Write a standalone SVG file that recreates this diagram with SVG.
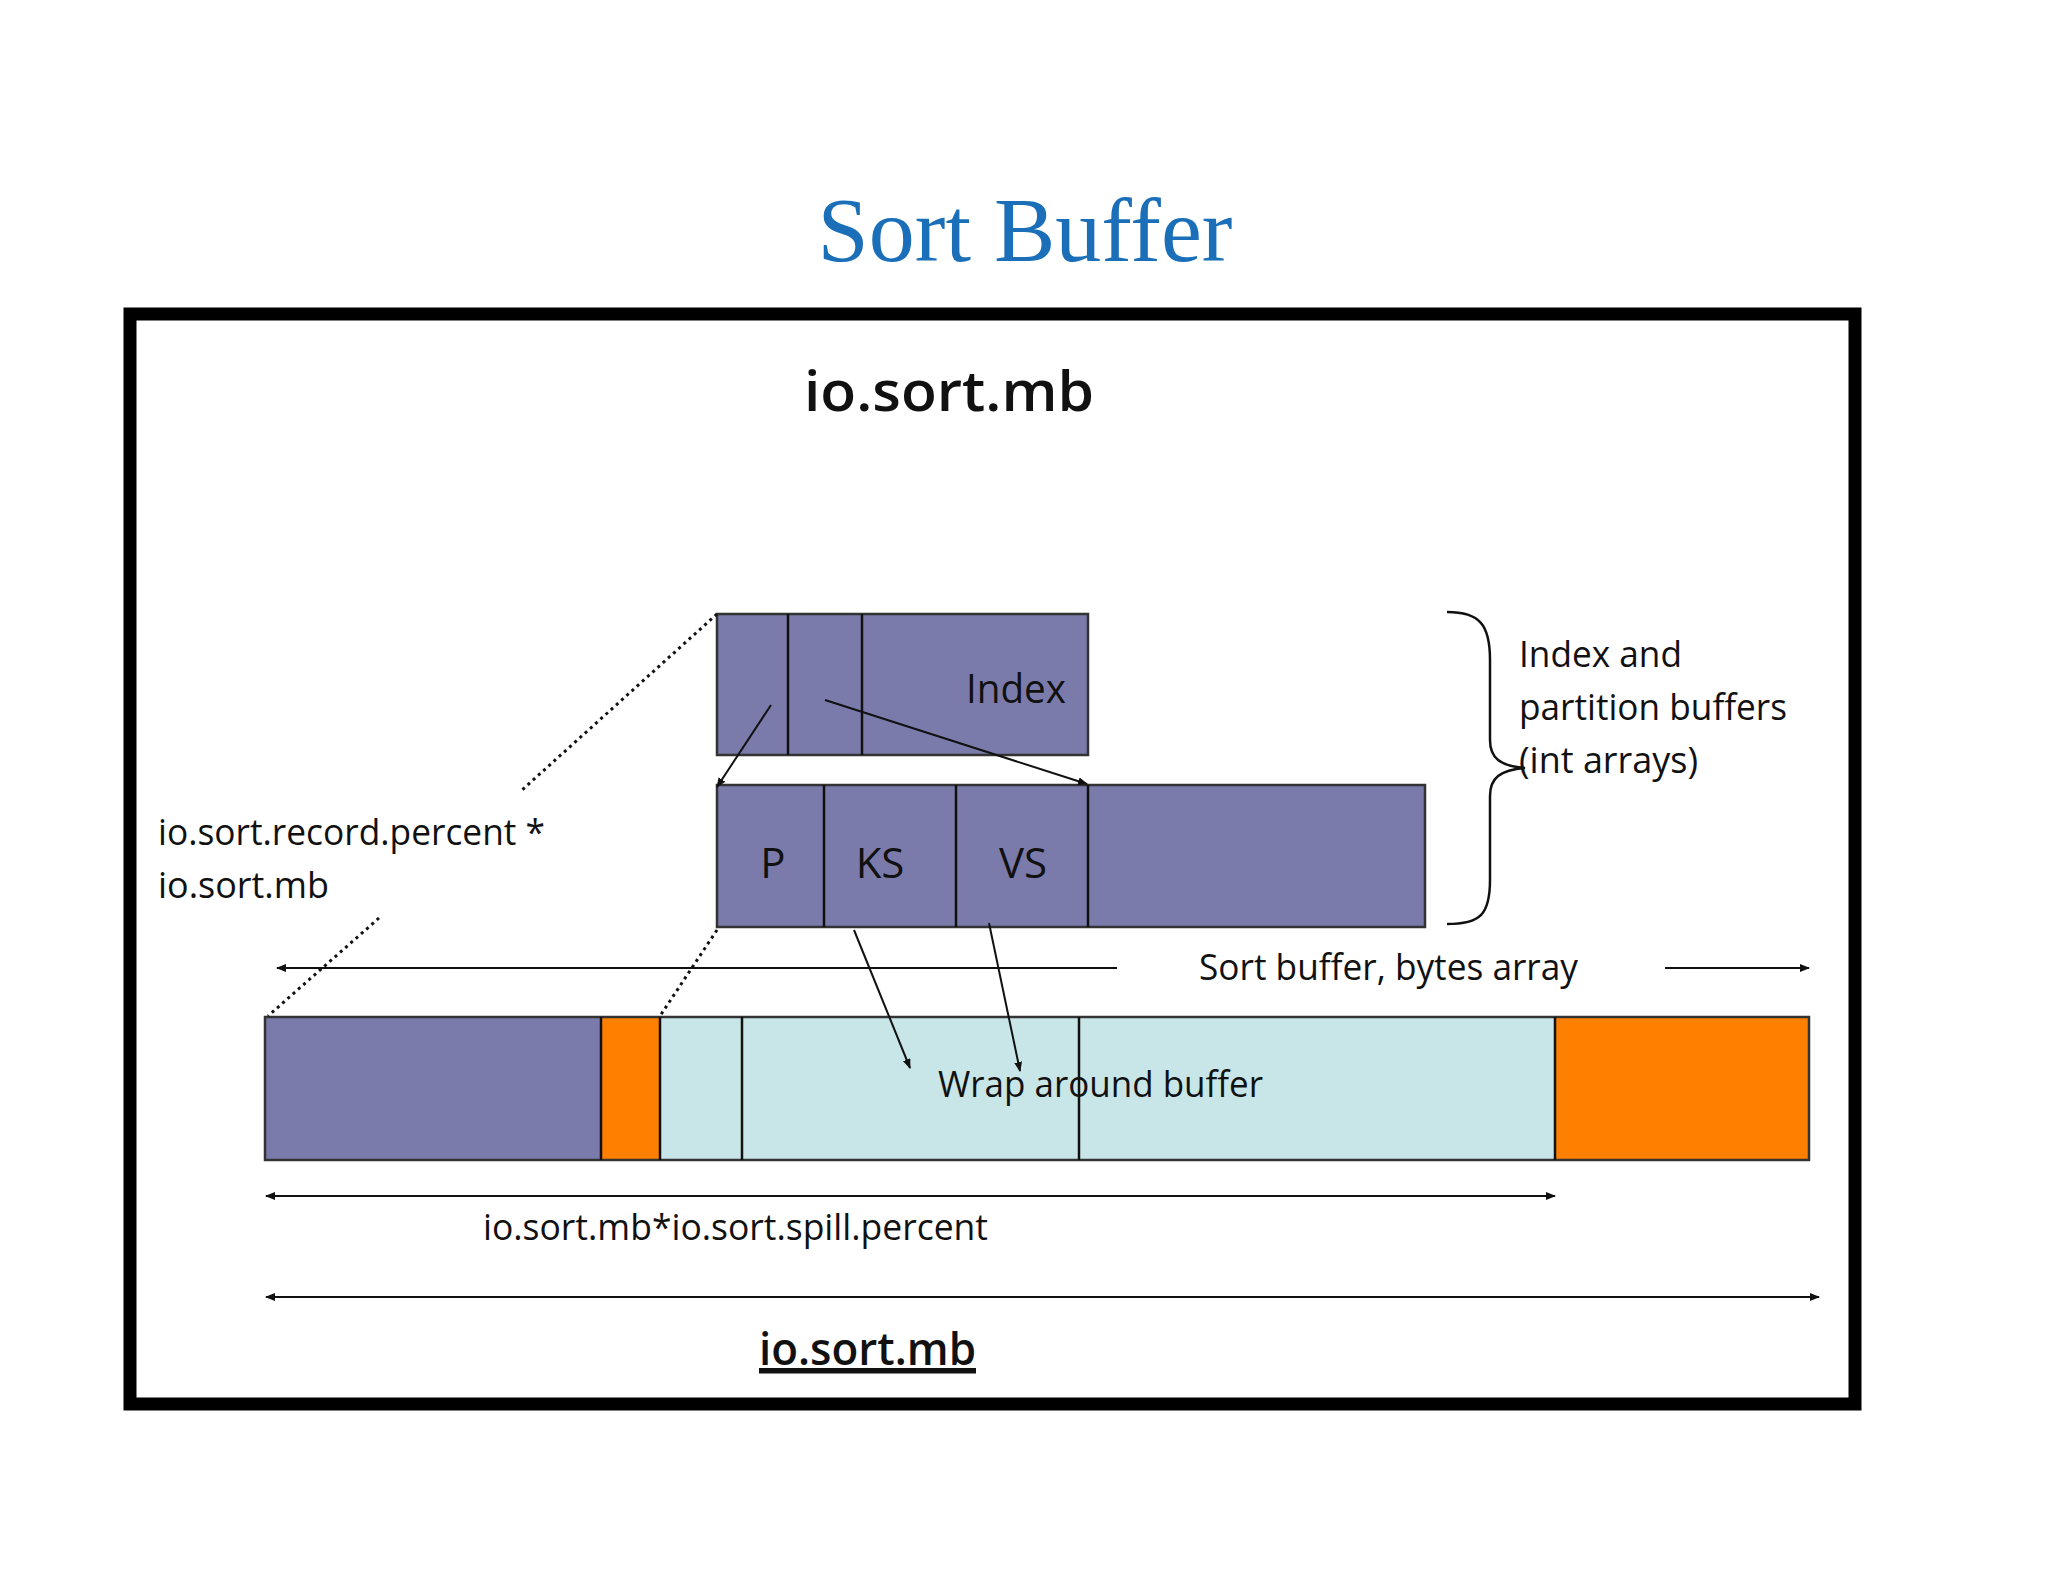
<svg xmlns="http://www.w3.org/2000/svg" width="2048" height="1582" viewBox="0 0 2048 1582">
<defs>
<style>
.t{font-family:"Open Sans","Liberation Sans",sans-serif;fill:#111}
.pu{fill:#7b7bab;stroke:#333;stroke-width:2.5}
.ln{stroke:#111;stroke-width:2.5;fill:none}
.ar{stroke:#111;stroke-width:2;fill:none;marker-end:url(#a)}
.dot{stroke:#111;stroke-width:3;stroke-dasharray:3 4;fill:none}
</style>
<marker id="a" markerWidth="10" markerHeight="8" refX="9" refY="4" orient="auto" markerUnits="userSpaceOnUse"><path d="M0,0L10,4L0,8z" fill="#111"/></marker>
</defs>
<rect width="2048" height="1582" fill="#fff"/>
<text x="1025" y="261" text-anchor="middle" font-family="Liberation Serif,serif" font-size="92" fill="#1a6fb8">Sort Buffer</text>
<rect x="130" y="314" width="1725" height="1090" fill="none" stroke="#000" stroke-width="13"/>
<text class="t" x="949" y="411" text-anchor="middle" font-size="56" font-weight="600" textLength="290" lengthAdjust="spacingAndGlyphs">io.sort.mb</text>
<g id="index">
<rect class="pu" x="717" y="614" width="371" height="141"/>
<line class="ln" x1="788" y1="614" x2="788" y2="755"/>
<line class="ln" x1="862" y1="614" x2="862" y2="755"/>
<text class="t" x="1066" y="703" text-anchor="end" font-size="40" textLength="100" lengthAdjust="spacingAndGlyphs">Index</text>
</g>
<g id="partition">
<rect class="pu" x="717" y="785" width="708" height="142"/>
<line class="ln" x1="824" y1="785" x2="824" y2="927"/>
<line class="ln" x1="956" y1="785" x2="956" y2="927"/>
<line class="ln" x1="1088" y1="785" x2="1088" y2="927"/>
<text class="t" x="773" y="878" text-anchor="middle" font-size="42">P</text>
<text class="t" x="880" y="878" text-anchor="middle" font-size="42">KS</text>
<text class="t" x="1023" y="878" text-anchor="middle" font-size="42">VS</text>
</g>
<g id="brace">
<path class="ln" d="M1447,612 C1480,612 1490,625 1490,660 L1490,740 C1490,758 1500,766 1525,768 C1500,770 1490,778 1490,796 L1490,880 C1490,915 1480,924 1447,924"/>
<text class="t" font-size="36"><tspan x="1519" y="667" textLength="163" lengthAdjust="spacingAndGlyphs">Index and</tspan><tspan x="1519" y="720" textLength="268" lengthAdjust="spacingAndGlyphs">partition buffers</tspan><tspan x="1519" y="773" textLength="179" lengthAdjust="spacingAndGlyphs">(int arrays)</tspan></text>
</g>
<g id="recordLabel">
<text class="t" font-size="36"><tspan x="158" y="845" textLength="387" lengthAdjust="spacingAndGlyphs">io.sort.record.percent *</tspan><tspan x="158" y="898" textLength="171" lengthAdjust="spacingAndGlyphs">io.sort.mb</tspan></text>
</g>
<g id="bar">
<rect x="265" y="1017" width="336" height="143" fill="#7b7bab"/>
<rect x="601" y="1017" width="59" height="143" fill="#ff7f00"/>
<rect x="660" y="1017" width="895" height="143" fill="#c8e6e8"/>
<rect x="1555" y="1017" width="254" height="143" fill="#ff7f00"/>
<rect x="265" y="1017" width="1544" height="143" fill="none" stroke="#333" stroke-width="2.5"/>
<line class="ln" x1="601" y1="1017" x2="601" y2="1160"/>
<line class="ln" x1="660" y1="1017" x2="660" y2="1160"/>
<line class="ln" x1="742" y1="1017" x2="742" y2="1160"/>
<line class="ln" x1="1079" y1="1017" x2="1079" y2="1160"/>
<line class="ln" x1="1555" y1="1017" x2="1555" y2="1160"/>
<text class="t" x="938" y="1097" font-size="36" textLength="325" lengthAdjust="spacingAndGlyphs">Wrap around buffer</text>
</g>
<g id="connectors">
<path class="dot" d="M717,614 L522,790"/>
<path class="dot" d="M379,918 L268,1016"/>
<path class="dot" d="M717,930 L660,1016"/>
<path class="ar" d="M771,705 L717,787"/>
<path class="ar" d="M825,700 L1087,784"/>
<path class="ar" d="M854,930 L910,1068"/>
<path class="ar" d="M989,923 L1020,1071"/>
<path class="ar" d="M1117,968 L277,968"/>
<path class="ar" d="M1665,968 L1809,968"/>
<path class="ar" d="M1555,1196 L266,1196"/>
<path class="ar" d="M266,1196 L1555,1196"/>
<path class="ar" d="M1819,1297 L266,1297"/>
<path class="ar" d="M266,1297 L1819,1297"/>
</g>
<text class="t" x="1199" y="980" font-size="36" textLength="379" lengthAdjust="spacingAndGlyphs">Sort buffer, bytes array</text>
<text class="t" x="483" y="1240" font-size="36" textLength="505" lengthAdjust="spacingAndGlyphs">io.sort.mb*io.sort.spill.percent</text>
<text class="t" x="759" y="1365" font-size="46" font-weight="600" text-decoration="underline" textLength="217" lengthAdjust="spacingAndGlyphs">io.sort.mb</text>
<line x1="759" y1="1372" x2="976" y2="1372" stroke="#111" stroke-width="3"/>
</svg>
